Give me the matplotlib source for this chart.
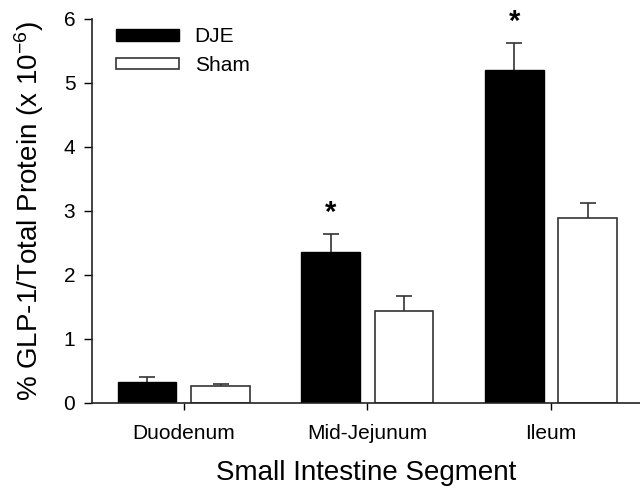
import numpy as np
import matplotlib
matplotlib.use("Agg")
import matplotlib.pyplot as plt

plt.rcParams['font.family'] = ['Liberation Sans', 'DejaVu Sans']
plt.rcParams['mathtext.fontset'] = 'custom'
plt.rcParams['mathtext.rm'] = 'Liberation Sans'
plt.rcParams['mathtext.it'] = 'Liberation Sans:italic'
plt.rcParams['mathtext.bf'] = 'Liberation Sans:bold'

segments = ["Duodenum", "Mid-Jejunum", "Ileum"]
dje_mean = [0.33, 2.36, 5.20]
dje_err = [0.08, 0.28, 0.42]
sham_mean = [0.27, 1.44, 2.89]
sham_err = [0.03, 0.23, 0.24]
significant = [False, True, True]

fig = plt.figure(figsize=(6.4, 4.88), dpi=100)
ax = fig.add_axes([92 / 640, 85 / 488, 548 / 640, 384 / 488])

x = np.arange(len(segments))
width = 0.32
offset = 0.2
err_color = "#333333"


def upper_errorbars(xpos, means, errs):
    """Draw one-sided (upward) error bars with a cap only at the top."""
    lower = np.zeros(len(errs))
    _, caps, _ = ax.errorbar(xpos, means, yerr=[lower, errs], fmt="none",
                             ecolor=err_color, elinewidth=1.2, capsize=5.5,
                             capthick=1.2, zorder=3)
    for cap in caps:
        if np.allclose(cap.get_ydata(), means):
            cap.set_visible(False)


ax.bar(x - offset, dje_mean, width, color="black", edgecolor="black",
       linewidth=1, label="DJE", zorder=2)
ax.bar(x + offset, sham_mean, width, color="white", edgecolor=err_color,
       linewidth=1.2, label="Sham", zorder=2)
upper_errorbars(x - offset, dje_mean, dje_err)
upper_errorbars(x + offset, sham_mean, sham_err)

# significance markers above the DJE bars
for xi, m, e, sig in zip(x, dje_mean, dje_err, significant):
    if sig:
        ax.text(xi - offset, m + e + 0.33, "*", ha="center", va="center",
                fontsize=21, fontweight="bold")

ax.set_xlim(-0.5, (640 - 184) / 183.5)
ax.set_ylim(0, 6)
ax.set_yticks([0, 1, 2, 3, 4, 5, 6])
ax.set_xticks(x)
ax.set_xticklabels(segments, fontsize=15)
ax.tick_params(axis="y", labelsize=15, length=6, width=1, direction="out", pad=6)
ax.tick_params(axis="x", length=5, width=1, direction="out", pad=10)

for s in ["top", "right"]:
    ax.spines[s].set_visible(False)
for s in ["left", "bottom"]:
    ax.spines[s].set_linewidth(1.2)
    ax.spines[s].set_color("#222222")

ax.set_xlabel("Small Intestine Segment", fontsize=20, labelpad=12)
ax.set_ylabel(r"% GLP-1/Total Protein (x 10$^{\mathrm{-6}}$)", fontsize=20,
              labelpad=13)

ax.legend(loc="upper left", bbox_to_anchor=(0.0295, 1.0), frameon=False,
          fontsize=15, handlelength=3.0, handleheight=0.46,
          handletextpad=0.75, labelspacing=0.45, borderaxespad=0)

fig.savefig("out.png", dpi=100)
